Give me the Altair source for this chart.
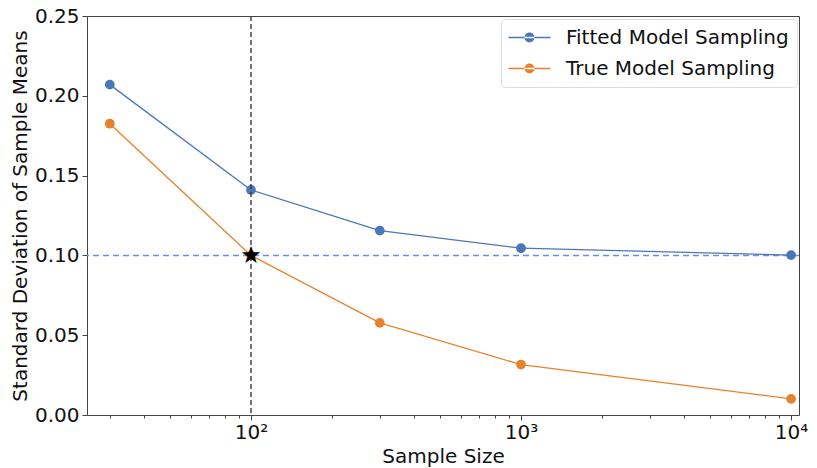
import altair as alt
import pandas as pd

sizes = [30, 100, 300, 1000, 10000]
fitted = [0.207, 0.141, 0.1155, 0.1045, 0.1002]
true_vals = [0.1825, 0.100, 0.0577, 0.0316, 0.0101]
series_names = ["Fitted Model Sampling", "True Model Sampling"]
colors = ["#4a77b7", "#e8812b"]
ref_x = [100]
ref_y = [0.1]
y_ticks = [0.0, 0.05, 0.10, 0.15, 0.20, 0.25]
x_ticks = [30, 40, 50, 60, 70, 80, 90, 100, 200, 300, 400, 500, 600, 700, 800, 900,
           1000, 2000, 3000, 4000, 5000, 6000, 7000, 8000, 9000, 10000]

rows = []
for n, f in zip(sizes, fitted):
    rows.append({"n": n, "sd": f, "series": series_names[0]})
for n, t in zip(sizes, true_vals):
    rows.append({"n": n, "sd": t, "series": series_names[1]})
df = pd.DataFrame(rows)

FONT = "DejaVu Sans"
is_major = "abs(log(datum.value)/LN10 - round(log(datum.value)/LN10)) < 0.000001"

xscale = alt.Scale(type="log", domain=[24.7, 10700], nice=False)
yscale = alt.Scale(domain=[0, 0.25], nice=False)
cscale = alt.Scale(domain=series_names, range=colors)

x_axis = alt.Axis(values=x_ticks,
                  labelExpr="datum.value == 100 ? '10²' : datum.value == 1000 ? '10³' : datum.value == 10000 ? '10⁴' : ''",
                  tickSize={"condition": {"test": is_major, "value": 5}, "value": 3},
                  grid=False, domain=False, tickColor="#444",
                  labelFont=FONT, labelFontSize=20, labelColor="#111",
                  labelPadding=2, labelFlush=False, labelOverlap=False,
                  titleFont=FONT, titleFontSize=20, titleFontWeight="normal",
                  titleColor="#111", titlePadding=4)
y_axis = alt.Axis(values=y_ticks, format=".2f", grid=False, domain=False,
                  tickSize=5, tickColor="#444",
                  labelFont=FONT, labelFontSize=20, labelColor="#111",
                  labelPadding=3, labelFlush=False,
                  titleFont=FONT, titleFontSize=20, titleFontWeight="normal",
                  titleColor="#111", titlePadding=4)

legend = alt.Legend(title=None, orient="none", legendX=414, legendY=3,
                    labelFont=FONT, labelFontSize=20, labelColor="#111", labelLimit=0,
                    symbolType="M-2,-0.07L2,-0.07L2,0.07L-2,0.07Z M-0.47,0A0.47,0.47 0 1,0 0.47,0A0.47,0.47 0 1,0 -0.47,0Z",
                    symbolSize=441, symbolStrokeWidth=0, symbolOpacity=1,
                    symbolOffset=10, labelOffset=26, rowPadding=10,
                    padding=8, strokeColor="#dddddd", fillColor="white",
                    cornerRadius=4)

XT = "Sample Size"
YT = "Standard Deviation of Sample Means"


def xe(field):
    return alt.X(field, scale=xscale, title=XT, axis=x_axis)


def ye(field):
    return alt.Y(field, scale=yscale, title=YT, axis=y_axis)


ce = alt.Color("series:N", scale=cscale, legend=legend)

href = pd.DataFrame({"y": ref_y})
vref = pd.DataFrame({"x": ref_x})
star = pd.DataFrame({"x": ref_x, "y": ref_y})

hline = alt.Chart(href).mark_rule(color="#6a8ee8", strokeDash=[6, 4], strokeWidth=1.5).encode(
    y=ye("y:Q"))

segments = alt.Chart(df).transform_window(
    n2="lead(n)", sd2="lead(sd)", groupby=["series"], sort=[{"field": "n"}],
    frame=[None, None]
).transform_filter("datum.n2 != null").mark_rule(strokeWidth=1.3).encode(
    x=xe("n:Q"), x2="n2:Q", y=ye("sd:Q"), y2="sd2:Q", color=ce)

points = alt.Chart(df).mark_point(filled=True, size=95, opacity=1).encode(
    x=xe("n:Q"), y=ye("sd:Q"), color=ce)

vline = alt.Chart(vref).mark_rule(color="#3a3a3a", strokeDash=[5, 3], strokeWidth=1.4).encode(
    x=xe("x:Q"))

star_mark = alt.Chart(star).mark_text(text="★", font=FONT, fontSize=24, color="black",
                                      baseline="middle", align="center", dy=1).encode(
    x=xe("x:Q"), y=ye("y:Q"))

chart = alt.layer(hline, segments, points, vline, star_mark).properties(
    width=712, height=399,
    autosize=alt.AutoSizeParams(type="none"),
    padding={"left": 79, "top": 8, "right": 10, "bottom": 52},
).configure_view(stroke="#444444", strokeWidth=1)

chart.save("out.html", embed_options={"renderer": "svg", "actions": False})
